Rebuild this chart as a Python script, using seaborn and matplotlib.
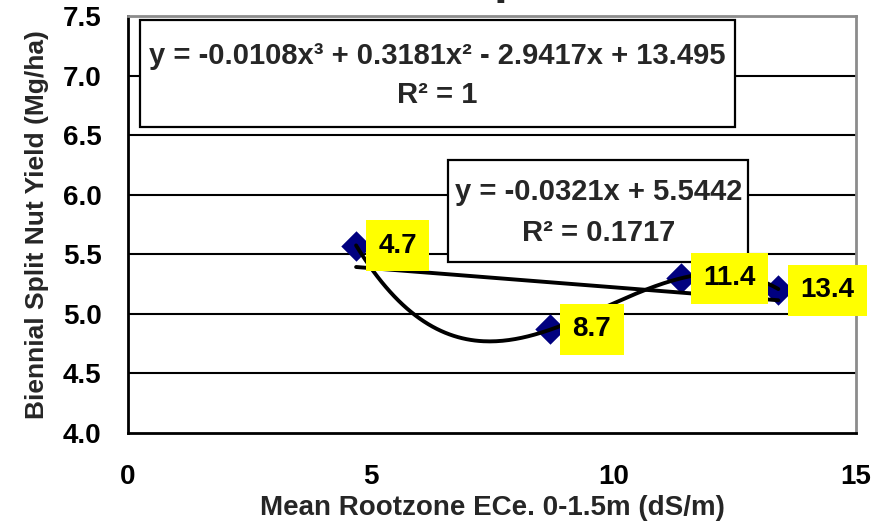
import numpy as np
import pandas as pd
import matplotlib
matplotlib.use("Agg")
import matplotlib.pyplot as plt
import seaborn as sns
from matplotlib.patches import Rectangle

# ---- data ----
ece = [4.7, 8.7, 11.4, 13.4]
yield_mg = [5.57, 4.87, 5.30, 5.20]
point_labels = ["4.7", "8.7", "11.4", "13.4"]
cubic_coef = [-0.0108, 0.3181, -2.9417, 13.495]
linear_coef = [-0.0321, 5.5442]
eq_cubic = ["y = -0.0108x³ + 0.3181x² - 2.9417x + 13.495", "R² = 1"]
eq_linear = ["y = -0.0321x + 5.5442", "R² = 0.1717"]
x_ticks = [0, 5, 10, 15]
y_ticks = [4.0, 4.5, 5.0, 5.5, 6.0, 6.5, 7.0, 7.5]
x_label = "Mean Rootzone ECe. 0-1.5m (dS/m)"
y_label = "Biennial Split Nut Yield (Mg/ha)"

sns.set_theme(style="white")
plt.rcParams['font.family'] = ['Liberation Sans', 'DejaVu Sans']
plt.rcParams['font.weight'] = 'bold'

fig = plt.figure(figsize=(8.88, 5.32), dpi=100)
ax = fig.add_axes([128/888, 1-433/532, 728/888, 417/532])

df = pd.DataFrame({"x": ece, "y": yield_mg})
xs = np.linspace(min(ece), max(ece), 200)
fit = pd.DataFrame({"x": xs,
                    "cubic": np.polyval(cubic_coef, xs),
                    "linear": np.polyval(linear_coef, xs)})

for yv in y_ticks[1:]:
    ax.axhline(yv, color="black", lw=1.5, zorder=1)

sns.scatterplot(data=df, x="x", y="y", marker="D", s=240, color="#000080",
                edgecolor="#000080", linewidth=0, ax=ax, zorder=3)
sns.lineplot(data=fit, x="x", y="cubic", color="black", lw=2.8, ax=ax,
             sort=False, zorder=4)
sns.lineplot(data=fit, x="x", y="linear", color="black", lw=2.8, ax=ax,
             sort=False, zorder=4)

for xv, yv, lab in zip(ece, yield_mg, point_labels):
    ax.annotate(lab, (xv, yv), xytext=(16, 0), textcoords="offset points",
                ha="left", va="center", fontsize=20, fontweight="bold",
                color="black", zorder=6, annotation_clip=False,
                bbox=dict(boxstyle="square,pad=0.45", fc="#ffff00", ec="none"))

# equation boxes
def eq_box(x0, y0, x1, y1, lines, ycs):
    ax.add_patch(Rectangle((x0, y0), x1-x0, y1-y0, transform=ax.transAxes,
                           fc="white", ec="black", lw=1.6, zorder=5))
    for t, yc in zip(lines, ycs):
        ax.text((x0+x1)/2, yc, t, transform=ax.transAxes, ha="center",
                va="center", fontsize=21, fontweight="bold", zorder=6)

eq_box(0.0165, 0.734, 0.834, 0.990, eq_cubic, [0.905, 0.810])
eq_box(0.440, 0.410, 0.852, 0.655, eq_linear, [0.577, 0.480])

ax.set_xlim(0, 15)
ax.set_ylim(4.0, 7.5)
ax.set_xticks(x_ticks)
ax.set_yticks(y_ticks)
ax.set_xticklabels([str(v) for v in x_ticks])
ax.set_yticklabels([f"{v:.1f}" for v in y_ticks])
ax.tick_params(axis="both", direction="out", length=8, width=1.5,
               color="black", labelsize=20, labelcolor="black")
ax.tick_params(axis="y", pad=11)
ax.tick_params(axis="x", pad=14)
for lab in ax.get_xticklabels() + ax.get_yticklabels():
    lab.set_fontweight("bold")

ax.set_xlabel(x_label, fontsize=20, fontweight="bold", labelpad=4)
ax.set_ylabel(y_label, fontsize=19, fontweight="bold", labelpad=10)

for s in ["left", "bottom"]:
    ax.spines[s].set_color("black")
    ax.spines[s].set_linewidth(2)
for s in ["top", "right"]:
    ax.spines[s].set_color("#8c8c8c")
    ax.spines[s].set_linewidth(2)
ax.grid(False)

# clipped title fragment (only a descender is visible in the reference)
fig.text(494/888, 1 + 7/532, "p", fontsize=36, fontweight="bold",
         ha="left", va="baseline")

fig.savefig("out.png", dpi=100)
